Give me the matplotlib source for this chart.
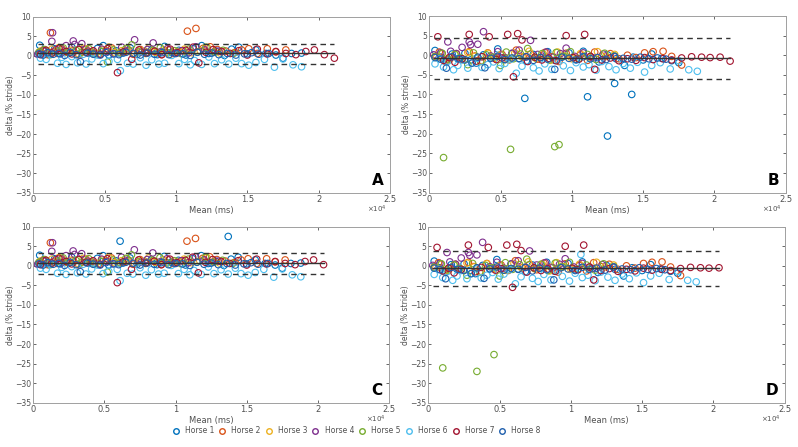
import matplotlib
matplotlib.use("Agg")
import matplotlib.pyplot as plt
from matplotlib.lines import Line2D
from matplotlib.ticker import FuncFormatter

horses = ['Horse 1', 'Horse 2', 'Horse 3', 'Horse 4', 'Horse 5', 'Horse 6', 'Horse 7', 'Horse 8']
colors = ['#0072BD', '#D95319', '#EDB120', '#7E2F8E', '#77AC30', '#4DBEEE', '#A2142F', '#1F5FAD']

# ---------------- Left panels (A and C): shared points ----------------
l_x1 = [450, 500, 800, 1100, 1500, 1900, 2300, 2700, 3100, 3600, 4000, 4500, 4900, 5300, 5800, 6300, 6800, 7300, 7800, 8300, 8700, 9200, 9700, 10200, 10700, 11200, 11800, 12300, 12800, 13400, 13900, 14400, 15000, 15600, 16300, 17000, 17500, 18100, 18800]
l_y1 = [2.7, 0.4, 1.2, 0.3, 1.8, 0.5, 1.1, 2.2, 0.4, 1.5, 0.8, 1.9, 2.6, 0.2, 1.3, 0.7, 2.0, 0.4, 1.1, 1.6, 0.3, 2.4, 0.9, 1.4, 0.2, 1.8, 2.6, 0.6, 1.2, 0.1, 1.7, 2.2, 0.5, 1.5, 0.6, 0.2, -0.6, 0.6, 0.7]
l_x2 = [400, 700, 1000, 1200, 1400, 1700, 2000, 2400, 2800, 3200, 3700, 4100, 4600, 5100, 5500, 6000, 6500, 7000, 7500, 8000, 8500, 9000, 9500, 10000, 10500, 10800, 11400, 11900, 12400, 12900, 13500, 14100, 14600, 15100, 15700, 16400, 17000, 17700]
l_y2 = [0.8, 1.5, 0.3, 5.9, 1.1, 0.6, 1.8, 0.9, 1.4, 0.2, 1.7, 1.0, 0.5, 1.3, 2.0, 0.7, 1.2, 0.4, 1.6, 0.9, 1.1, 0.3, 1.5, 0.8, 1.3, 6.3, 7.0, 1.9, 2.3, 1.6, 1.2, 0.8, 1.5, 1.8, 0.6, 1.8, 1.0, 1.5]
l_x3 = [500, 900, 1300, 1800, 2200, 2600, 3000, 3500, 3900, 4400, 4800, 5300, 5700, 6200, 6600, 7100, 7600, 8100, 8600, 9100, 9600, 10100, 10600, 11100, 11700, 12200, 12700, 13100]
l_y3 = [1.2, 0.6, 1.7, 2.1, 0.9, 1.4, 0.5, 1.9, 1.1, 0.7, 1.5, 2.2, 0.8, 1.3, 1.8, 0.6, 1.2, 2.0, 0.9, 1.5, 0.4, 1.1, 1.7, 0.8, 1.3, 2.1, 1.0, 0.7]
l_x4 = [300, 700, 1300, 1350, 1600, 2000, 2300, 2800, 2900, 3400, 3800, 4300, 4800, 5200, 5700, 6200, 6700, 7100, 7600, 8000, 8400, 8900, 9400, 9900, 10400, 10900, 11400, 12000, 12600, 13000]
l_y4 = [0.4, 1.3, 3.7, 5.9, 1.6, 0.8, 2.6, 3.8, 2.9, 3.1, 1.2, 0.6, 1.7, 1.1, 0.5, 2.2, 1.4, 4.1, 0.9, 1.6, 3.3, 1.0, 1.8, 0.6, 1.3, 0.8, 2.3, 1.5, 0.9, 1.2]
l_x5 = [400, 800, 1200, 1700, 2100, 2500, 3000, 3400, 3900, 4300, 4800, 5200, 5600, 6100, 6500, 6900, 7400, 7900, 8400, 8900, 9400, 9900, 10400, 10900, 11500, 12100, 12700, 13300, 14000]
l_y5 = [0.9, 1.6, 0.3, 1.2, 2.0, 0.7, 1.4, 0.9, 1.8, 0.4, 1.1, -1.6, 1.5, 0.8, 1.9, 2.8, 1.0, 0.6, 1.4, 2.1, 0.8, 1.3, 0.5, 1.7, 1.0, 2.2, 0.9, 1.4, 0.6]
l_x6 = [500, 600, 900, 1200, 1700, 2000, 2300, 2700, 3100, 3500, 3700, 4100, 4500, 4900, 5300, 5900, 6100, 6600, 7000, 7500, 7900, 8300, 8800, 9200, 9700, 10200, 10600, 11000, 11300, 11800, 12300, 12700, 13200, 13700, 14200, 14600, 15100, 15600, 16200, 16900, 17500, 18200, 18800]
l_y6 = [-0.6, 0.3, -0.9, 0.5, -1.9, -0.4, -2.2, -0.2, -1.8, 0.4, -2.1, -0.8, 0.2, -2.0, -1.4, -0.9, -3.8, -1.9, -2.1, -0.5, -2.4, -1.0, -2.1, -1.9, 0.1, -2.0, -0.9, -2.3, -1.2, -2.2, -0.3, -2.0, -1.0, -2.1, -0.6, -2.0, -2.4, -1.7, -0.9, -2.9, -0.8, -2.3, -2.8]
l_x7 = [500, 900, 1300, 1800, 2300, 2700, 3200, 3700, 4200, 4700, 5200, 5900, 6300, 6900, 7400, 7900, 8500, 9000, 9600, 10100, 10700, 11200, 11600, 12100, 12600, 13200, 13800, 14400, 15000, 15700, 16400, 17000, 17700, 18400, 19100, 19700, 20400]
l_y7 = [0.3, 1.4, 0.7, 1.9, 1.1, 0.5, 1.6, 0.9, 1.3, 0.4, 1.8, -4.3, 1.0, -0.9, 1.5, 0.7, 1.2, 0.3, 1.7, 0.8, 1.4, 2.2, -1.8, 0.9, 1.6, 1.1, 0.6, 1.3, 0.2, 1.7, 0.5, 1.1, 0.6, 0.3, 1.1, 1.5, 0.3]
l_x8 = [400, 700, 1000, 1400, 1800, 2200, 2600, 3000, 3300, 3800, 4200, 4700, 5100, 5600, 6000, 6500, 7000, 7500, 8000, 8500, 9000, 9500, 10000, 10500, 11000, 11500, 12000, 12500, 13000, 13600, 14200, 14800, 15300, 15800, 16500]
l_y8 = [0.5, 0.2, 0.8, 0.4, 0.6, 0.1, 0.9, 0.3, -1.5, 0.7, 0.4, 0.2, 0.8, 0.5, 0.3, 0.9, 0.6, 0.2, 0.7, 0.4, 0.8, 0.3, 0.6, 0.5, 0.1, 0.9, 0.4, 0.7, 0.3, 0.6, 0.2, 0.5, 0.8, 0.4, 0.6]

# panel-specific extra points (left)
a_extra_x7 = [21100]
a_extra_y7 = [-0.6]
c_extra_x1 = [6100, 13700]
c_extra_y1 = [6.3, 7.5]

# ---------------- Right panels (B and D): shared points ----------------
r_x1 = [400, 800, 1200, 1600, 2000, 2500, 2900, 3300, 3800, 4300, 4800, 5300, 5800, 6300, 6800, 7300, 7800, 8300, 8800, 9300, 9800, 10300, 10800, 11300, 11900, 12500, 13100, 13700, 14300, 15000, 15600, 16300, 17000, 17500]
r_y1 = [1.2, -0.5, -1.6, 0.3, -0.9, 0.5, -1.2, -2.0, 0.1, -0.7, 1.6, -1.1, 0.4, -0.8, -1.5, 0.2, -0.6, 0.9, -1.3, -0.3, 0.6, -1.0, 1.0, -0.4, -1.7, 0.1, -0.9, -2.6, -0.5, -1.2, 0.3, -0.8, -1.4, -1.9]
r_x2 = [400, 700, 1100, 1500, 1900, 2300, 2800, 3200, 3700, 4100, 4600, 5100, 5600, 6100, 6600, 7100, 7600, 8100, 8600, 9100, 9600, 10100, 10600, 11100, 11600, 12100, 12700, 13300, 13900, 14500, 15100, 15700, 16400, 17000, 17700]
r_y2 = [-0.3, 0.8, -1.5, -0.6, 0.4, -1.1, 0.9, -0.2, -1.4, 0.6, -0.8, 0.2, -1.2, 1.3, -0.5, 0.3, -1.0, 0.7, -0.4, -1.6, 0.5, -0.7, 0.1, -1.3, 0.8, -0.2, 0.4, -0.9, 0.0, -0.6, 0.6, 0.9, 1.0, -0.3, -2.5]
r_x3 = [500, 900, 1400, 1800, 2300, 2700, 3200, 3600, 4100, 4600, 5000, 5500, 6000, 6500, 7000, 7500, 8000, 8500, 9000, 9500, 10000, 10600, 11200, 11800, 12400, 13000]
r_y3 = [-0.6, 0.4, -1.2, 0.2, -0.9, 0.7, -0.3, -1.5, 0.5, -0.7, 0.1, -1.1, 0.6, -0.4, 1.0, -0.8, 0.3, -1.3, 0.8, -0.2, -0.9, 0.4, -0.6, 0.9, -0.3, 0.2]
r_x4 = [300, 800, 1300, 1500, 1900, 2300, 2800, 2900, 3400, 3800, 4300, 4800, 5300, 5800, 6300, 6800, 7100, 7600, 8200, 8700, 9200, 9600, 10200, 10800, 11500, 12200, 13000]
r_y4 = [0.1, 0.6, 3.4, 1.0, 0.4, 2.0, 3.4, 2.7, 2.8, 6.0, -0.2, 0.9, -0.6, 0.5, 1.3, -0.4, 3.8, 0.2, 0.8, -0.5, 0.4, 1.8, -0.3, 0.6, -0.7, 0.3, -0.4]
r_x5 = [400, 900, 1300, 1800, 2200, 2700, 3100, 3600, 4000, 4500, 5000, 5400, 5900, 6400, 6900, 7400, 7900, 8400, 8900, 9400, 9900, 10500, 11100, 11700, 12300, 13000]
r_y5 = [-0.4, 0.5, -1.0, 0.2, -0.7, -2.4, 0.6, -1.6, 0.1, -0.5, -2.6, 0.8, -0.9, 0.3, 1.7, -0.6, 0.4, -1.2, 0.7, -0.3, 0.9, -0.8, 0.2, -1.1, 0.5, -0.2]
r_x6 = [400, 700, 1000, 1300, 1700, 2000, 2300, 2700, 3000, 3400, 3700, 4100, 4500, 4900, 5300, 5700, 6100, 6500, 6900, 7300, 7700, 8100, 8600, 9000, 9400, 9900, 10300, 10800, 11200, 11700, 12100, 12600, 13100, 13600, 14100, 14600, 15100, 15600, 16200, 16900, 17500, 18200, 18800]
r_y6 = [-2.2, -0.9, -3.0, -1.5, -3.7, -2.6, -1.2, -3.3, -2.0, -0.8, -3.1, -2.4, -1.7, -3.4, -2.1, -1.0, -4.6, -2.8, -1.5, -3.2, -4.0, -2.2, -3.6, -1.3, -2.7, -3.9, -1.9, -3.0, -2.4, -3.8, -1.6, -2.9, -3.7, -2.1, -3.3, -1.8, -4.3, -2.6, -1.9, -3.5, -1.4, -3.7, -4.1]
r_x7 = [600, 1000, 1400, 1800, 2300, 2800, 3300, 3700, 4200, 4700, 5100, 5500, 5900, 6200, 6500, 6900, 7400, 7900, 8400, 8900, 9600, 10100, 10500, 10900, 11300, 11600, 12100, 12700, 13300, 13900, 14500, 15100, 15700, 16400, 17000, 17700, 18400, 19100, 19700, 20400]
r_y7 = [4.7, -1.3, -0.6, -1.8, -0.9, 5.3, -1.5, -0.4, 4.7, -1.1, -0.7, 5.3, -5.5, 5.5, 3.9, -1.6, -0.5, -1.2, -0.8, -1.4, 5.0, -0.6, -1.0, 5.3, -0.3, -3.6, -1.2, -0.7, -1.4, -0.9, -1.3, -0.6, -1.1, -0.9, -1.2, -0.7, -0.4, -0.5, -0.6, -0.5]
r_x8 = [400, 800, 1200, 1600, 2100, 2500, 3000, 3400, 3900, 4300, 4800, 5300, 5800, 6300, 6800, 7300, 7800, 8300, 8800, 9300, 9800, 10300, 10800, 11300, 11800, 12400, 13000, 13600, 14200, 14800, 15400, 16000, 16600]
r_y8 = [-0.6, -1.0, -3.3, -0.4, -0.9, -1.2, -2.0, -0.5, -3.2, -0.8, -0.3, -1.1, -0.7, -0.9, -0.4, -1.3, -0.6, -1.0, -3.6, -0.5, -0.8, -1.2, -0.4, -0.9, -0.6, -1.1, -0.3, -0.8, -1.0, -0.5, -0.9, -0.7, -1.0]

# panel-specific extra points (right)
b_extra_x1 = [6700, 11100, 13000, 14200, 12500]
b_extra_y1 = [-11.0, -10.6, -7.2, -10.0, -20.6]
b_extra_x5 = [1000, 5700, 8800, 9100]
b_extra_y5 = [-26.1, -24.0, -23.3, -22.8]
b_extra_x7 = [21100]
b_extra_y7 = [-1.5]
d_extra_x5 = [1000, 3400, 4600]
d_extra_y5 = [-26.1, -27.0, -22.7]
d_extra_x6 = [10700]
d_extra_y6 = [2.9]

# Bland-Altman lines: mean, upper LoA, lower LoA, x-extent
bias = {'A': 0.6, 'B': -0.8, 'C': 0.6, 'D': -0.6}
upper = {'A': 3.1, 'B': 4.4, 'C': 3.2, 'D': 3.9}
lower = {'A': -2.0, 'B': -6.0, 'C': -2.0, 'D': -5.2}
x_start = 300
x_end = {'A': 21100, 'B': 21100, 'C': 20400, 'D': 20400}

left_x = [l_x1, l_x2, l_x3, l_x4, l_x5, l_x6, l_x7, l_x8]
left_y = [l_y1, l_y2, l_y3, l_y4, l_y5, l_y6, l_y7, l_y8]
right_x = [r_x1, r_x2, r_x3, r_x4, r_x5, r_x6, r_x7, r_x8]
right_y = [r_y1, r_y2, r_y3, r_y4, r_y5, r_y6, r_y7, r_y8]

def panel_data(panel):
    xs, ys = [], []
    for i in range(8):
        if panel in 'AC':
            x = list(left_x[i]); y = list(left_y[i])
        else:
            x = list(right_x[i]); y = list(right_y[i])
        if panel == 'A' and i == 6:
            x += a_extra_x7; y += a_extra_y7
        if panel == 'C' and i == 0:
            x += c_extra_x1; y += c_extra_y1
        if panel == 'B':
            if i == 0:
                x += b_extra_x1; y += b_extra_y1
            if i == 4:
                x += b_extra_x5; y += b_extra_y5
            if i == 6:
                x += b_extra_x7; y += b_extra_y7
        if panel == 'D':
            if i == 4:
                x += d_extra_x5; y += d_extra_y5
            if i == 5:
                x += d_extra_x6; y += d_extra_y6
        xs.append(x); ys.append(y)
    return xs, ys

W, H = 798, 447
fig = plt.figure(figsize=(W / 100, H / 100), dpi=100)
fig.patch.set_facecolor('white')

boxes = {
    'A': (33.3, 16.7, 390, 192.7),
    'B': (429.3, 16, 785.7, 192.5),
    'C': (33.3, 226.7, 389, 402.7),
    'D': (428.5, 226.7, 784.5, 402.7),
}

tick_col = '#505050'
spine_col = '#a0a0a0'

def fmt_x(v, pos):
    return '%g' % (v / 1e4)

for panel, (x0, y0, x1, y1) in boxes.items():
    ax = fig.add_axes([x0 / W, 1 - y1 / H, (x1 - x0) / W, (y1 - y0) / H])
    xs, ys = panel_data(panel)
    for i in range(8):
        ax.scatter(xs[i], ys[i], s=22, facecolors='none', edgecolors=colors[i], linewidths=0.8, zorder=2)
    ax.plot([x_start, x_end[panel]], [bias[panel]] * 2, color='#333333', lw=1.0, zorder=3)
    ax.plot([x_start, x_end[panel]], [upper[panel]] * 2, color='#333333', lw=1.0, ls=(0, (4, 3)), zorder=3)
    ax.plot([x_start, x_end[panel]], [lower[panel]] * 2, color='#333333', lw=1.0, ls=(0, (4, 3)), zorder=3)
    ax.set_xlim(0, 25000)
    ax.set_ylim(-35, 10)
    ax.set_xticks([0, 5000, 10000, 15000, 20000, 25000])
    ax.set_yticks(list(range(-35, 11, 5)))
    ax.xaxis.set_major_formatter(FuncFormatter(fmt_x))
    ax.text(0.99, -0.093, r'$\times10^4$', transform=ax.transAxes, ha='right', va='center',
            fontsize=5, color=tick_col)
    ax.tick_params(direction='in', top=True, right=True, length=2.5, width=0.6,
                   labelsize=6, colors=tick_col, pad=2)
    ax.tick_params(axis='y', labelsize=5.5, pad=1.5)
    for s in ax.spines.values():
        s.set_color(spine_col)
        s.set_linewidth(0.7)
    ax.set_xlabel('Mean (ms)', fontsize=6, color=tick_col, labelpad=1)
    ax.set_ylabel('delta (% stride)', fontsize=5.5, color=tick_col)
    ax.yaxis.set_label_coords(-0.052, 0.5)
    ax.text(0.965, 0.07, panel, transform=ax.transAxes, fontsize=11, fontweight='bold',
            ha='center', va='center', color='black')

handles = [Line2D([], [], marker='o', ls='none', markerfacecolor='none', markeredgecolor=c,
                  markersize=4, markeredgewidth=1.0) for c in colors]
fig.legend(handles, horses, loc='center', bbox_to_anchor=(0.446, 0.036), ncol=8, frameon=False,
           fontsize=5.5, columnspacing=0.45, handletextpad=0.6, handlelength=1.2,
           labelcolor=tick_col)

fig.savefig('out.png', dpi=100)
